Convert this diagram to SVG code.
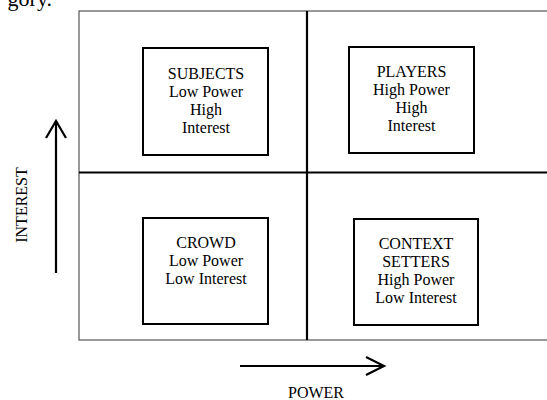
<svg xmlns="http://www.w3.org/2000/svg" width="547" height="400" viewBox="0 0 547 400">
<style>
text{font-family:"Liberation Serif","Times New Roman",serif;fill:#000}
.lbl{font-size:16px;text-anchor:middle}
.box{fill:#fff;stroke:#000;stroke-width:2}
.div{stroke:#000;stroke-width:2.2}
.ax{stroke:#000;stroke-width:2.2;fill:none}
</style>
<rect width="547" height="400" fill="#fff"/>
<text x="52" y="6" font-size="22" text-anchor="end">gory.</text>
<g id="grid">
<rect x="79" y="11" width="480" height="329" fill="none" stroke="#555" stroke-width="1.2"/>
<line class="div" x1="307" y1="11" x2="307" y2="340"/>
<line class="div" x1="79" y1="172.5" x2="547" y2="172.5"/>
</g>
<g id="subjects">
<rect class="box" x="143" y="48" width="125" height="107"/>
<text class="lbl" x="206" y="79">SUBJECTS</text>
<text class="lbl" x="206" y="97">Low Power</text>
<text class="lbl" x="206" y="115">High</text>
<text class="lbl" x="206" y="133">Interest</text>
</g>
<g id="players">
<rect class="box" x="349" y="47" width="125" height="106"/>
<text class="lbl" x="411.5" y="77">PLAYERS</text>
<text class="lbl" x="411.5" y="95">High Power</text>
<text class="lbl" x="411.5" y="113">High</text>
<text class="lbl" x="411.5" y="131">Interest</text>
</g>
<g id="crowd">
<rect class="box" x="143" y="218" width="125" height="106"/>
<text class="lbl" x="206" y="248">CROWD</text>
<text class="lbl" x="206" y="266">Low Power</text>
<text class="lbl" x="206" y="284">Low Interest</text>
</g>
<g id="context-setters">
<rect class="box" x="354" y="219" width="124" height="106"/>
<text class="lbl" x="416" y="249">CONTEXT</text>
<text class="lbl" x="416" y="267">SETTERS</text>
<text class="lbl" x="416" y="285">High Power</text>
<text class="lbl" x="416" y="303">Low Interest</text>
</g>
<g id="connectors">
<line class="ax" x1="240" y1="366" x2="384" y2="366"/>
<polyline class="ax" points="366,357 384,366 366,375"/>
<line class="ax" x1="56" y1="273" x2="56" y2="122"/>
<polyline class="ax" points="46,138 56,121 66,138"/>
</g>
<text class="lbl" x="316" y="398">POWER</text>
<text class="lbl" transform="translate(27,205) rotate(-90)" x="0" y="0">INTEREST</text>
</svg>
